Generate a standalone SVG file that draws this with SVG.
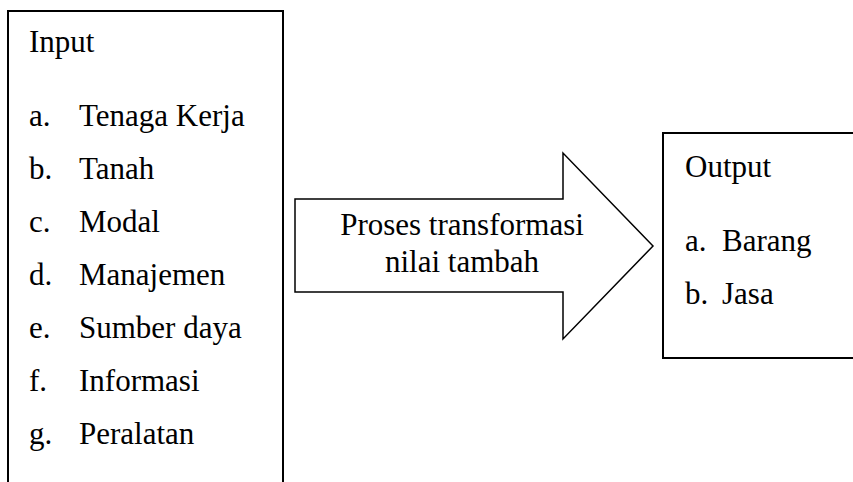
<svg xmlns="http://www.w3.org/2000/svg" width="853" height="482" viewBox="0 0 853 482">
<style>
  .box { fill: #ffffff; stroke: #000000; stroke-width: 2; }
  .arrow { fill: #ffffff; stroke: #000000; stroke-width: 1.5; stroke-linejoin: miter; }
  text { font-family: "Liberation Serif", "Times New Roman", serif; font-size: 31px; fill: #000000; }
  .mid { text-anchor: middle; }
</style>
<rect x="0" y="0" width="853" height="482" fill="#ffffff"/>
<g id="input">
  <path class="box" d="M 8 490 L 8 11 L 283 11 L 283 490"/>
  <text x="29" y="52">Input</text>
  <text x="29" y="126">a.</text><text x="79" y="126">Tenaga Kerja</text>
  <text x="29" y="179">b.</text><text x="79" y="179">Tanah</text>
  <text x="29" y="232">c.</text><text x="79" y="232">Modal</text>
  <text x="29" y="285">d.</text><text x="79" y="285">Manajemen</text>
  <text x="29" y="338">e.</text><text x="79" y="338">Sumber daya</text>
  <text x="29" y="391">f.</text><text x="79" y="391">Informasi</text>
  <text x="29" y="444">g.</text><text x="79" y="444">Peralatan</text>
</g>
<g id="connectors">
  <g id="process">
    <polygon class="arrow" points="295,199 563,199 563,153 653,246 563,339 563,292 295,292"/>
    <text class="mid" x="462" y="235">Proses transformasi</text>
    <text class="mid" x="462" y="272">nilai tambah</text>
  </g>
</g>
<g id="output">
  <rect class="box" x="663" y="133" width="200" height="225"/>
  <text x="685" y="177">Output</text>
  <text x="685" y="251">a.</text><text x="722" y="251">Barang</text>
  <text x="685" y="304">b.</text><text x="722" y="304">Jasa</text>
</g>
</svg>
